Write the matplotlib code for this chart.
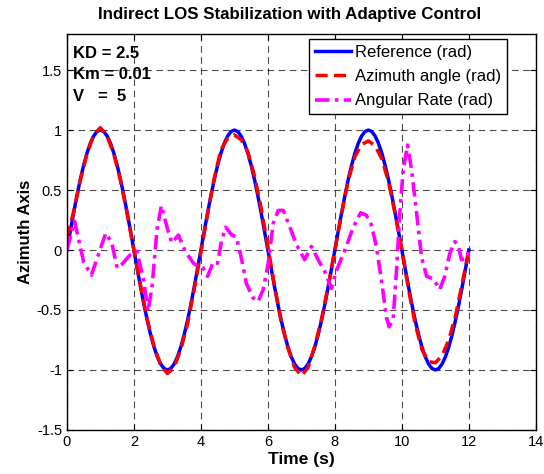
import matplotlib
matplotlib.use("Agg")
import matplotlib.pyplot as plt
import numpy as np

plt.rcParams['font.family'] = ['Liberation Sans', 'DejaVu Sans']

# reference signal, 0.1 s steps
t_ref = np.arange(0, 12.001, 0.1)
reference = [0.000, 0.156, 0.309, 0.454, 0.588, 0.707, 0.809, 0.891, 0.951, 0.988,
             1.000, 0.988, 0.951, 0.891, 0.809, 0.707, 0.588, 0.454, 0.309, 0.156,
             0.000, -0.156, -0.309, -0.454, -0.588, -0.707, -0.809, -0.891, -0.951, -0.988,
             -1.000, -0.988, -0.951, -0.891, -0.809, -0.707, -0.588, -0.454, -0.309, -0.156,
             0.000, 0.156, 0.309, 0.454, 0.588, 0.707, 0.809, 0.891, 0.951, 0.988,
             1.000, 0.988, 0.951, 0.891, 0.809, 0.707, 0.588, 0.454, 0.309, 0.156,
             0.000, -0.156, -0.309, -0.454, -0.588, -0.707, -0.809, -0.891, -0.951, -0.988,
             -1.000, -0.988, -0.951, -0.891, -0.809, -0.707, -0.588, -0.454, -0.309, -0.156,
             0.000, 0.156, 0.309, 0.454, 0.588, 0.707, 0.809, 0.891, 0.951, 0.988,
             1.000, 0.988, 0.951, 0.891, 0.809, 0.707, 0.588, 0.454, 0.309, 0.156,
             0.000, -0.156, -0.309, -0.454, -0.588, -0.707, -0.809, -0.891, -0.951, -0.988,
             -1.000, -0.988, -0.951, -0.891, -0.809, -0.707, -0.588, -0.454, -0.309, -0.156,
             0.000]

# azimuth angle, 0.2 s steps
t_az = np.arange(0, 12.01, 0.2)
azimuth = [0.10, 0.32, 0.58, 0.80, 0.96, 1.02, 0.95, 0.80, 0.58, 0.30,
           0.00, -0.30, -0.58, -0.80, -0.96, -1.03, -0.98, -0.83, -0.62, -0.33,
           -0.02, 0.30, 0.60, 0.84, 0.93, 0.96, 0.92, 0.82, 0.62, 0.35,
           0.03, -0.30, -0.60, -0.82, -0.98, -1.05, -0.98, -0.80, -0.58, -0.30,
           0.00, 0.30, 0.58, 0.78, 0.88, 0.91, 0.87, 0.76, 0.57, 0.30,
           0.00, -0.33, -0.62, -0.83, -0.93, -0.94, -0.88, -0.75, -0.55, -0.28,
           0.00]

# angular rate, read point by point
t_rate = [0.0, 0.23, 0.5, 0.73, 0.95, 1.16, 1.34, 1.5, 1.64, 1.89, 2.09, 2.29, 2.42,
          2.54, 2.69, 2.82, 2.99, 3.13, 3.33, 3.53, 3.78, 3.93, 4.07, 4.2, 4.37, 4.5,
          4.62, 4.74, 4.92, 5.06, 5.21, 5.36, 5.56, 5.71, 5.86, 6.01, 6.16, 6.31, 6.46,
          6.66, 6.86, 7.1, 7.3, 7.5, 7.7, 7.9, 8.05, 8.3, 8.55, 8.77, 8.94, 9.09, 9.24,
          9.39, 9.54, 9.62, 9.74, 9.84, 9.94, 10.04, 10.17, 10.29, 10.44, 10.59, 10.74,
          10.94, 11.13, 11.28, 11.43, 11.58, 11.68, 11.78, 11.93, 12.0]
rate = [0.0, 0.24, -0.10, -0.21, -0.03, 0.14, 0.06, -0.15, -0.12, -0.04, -0.01, -0.25, -0.51,
        -0.31, 0.17, 0.37, 0.19, 0.06, 0.125, -0.01, -0.11, -0.14, -0.15, -0.22, -0.10, -0.11,
        0.08, 0.19, 0.125, 0.11, -0.07, -0.28, -0.40, -0.43, -0.33, -0.11, 0.22, 0.33, 0.33,
        0.19, 0.04, -0.08, 0.03, -0.08, -0.18, -0.32, -0.17, 0.0, 0.19, 0.31, 0.29, 0.21, 0.03,
        -0.25, -0.56, -0.64, -0.58, -0.17, 0.31, 0.67, 0.875, 0.67, 0.31, -0.06, -0.22,
        -0.24, -0.33, -0.22, -0.03, 0.07, 0.04, -0.08, -0.07, -0.01]

xticks = [0, 2, 4, 6, 8, 10, 12, 14]
yticks = [-1.5, -1, -0.5, 0, 0.5, 1, 1.5]
ytick_labels = ['-1.5', '-1', '-0.5', '0', '0.5', '1', '1.5']

fig = plt.figure(figsize=(5.44, 4.74), dpi=100)
ax = fig.add_axes([0.123, 0.093, 0.862, 0.835])

ax.plot(t_ref, reference, color='#0000ff', lw=2.5, label='Reference (rad)')
ax.plot(t_az, azimuth, color='#ff0000', lw=2.5, ls=(0, (3.5, 1.8)), label='Azimuth angle (rad)')
ax.plot(t_rate, rate, color='#ff00ff', lw=2.6, ls=(0, (4, 1.5, 1, 1.5)), label='Angular Rate (rad)')

ax.set_xlim(0, 14)
ax.set_ylim(-1.5, 1.8)
ax.set_xticks(xticks)
ax.set_yticks(yticks)
ax.set_yticklabels(ytick_labels)
ax.tick_params(direction='in', top=True, right=True, labelsize=10.5, length=4)
ax.grid(True, color='black', ls=(0, (6, 4)), lw=0.8, alpha=0.7)
for s in ax.spines.values():
    s.set_linewidth(1.0)

ax.set_title('Indirect LOS Stabilization with Adaptive Control', fontsize=12.2, fontweight='bold',
             pad=11, x=0.475)
ax.set_xlabel('Time (s)', fontsize=12.5, fontweight='bold', labelpad=2)
ax.set_ylabel('Azimuth Axis', fontsize=12, fontweight='bold', labelpad=3)

ax.text(0.013, 0.952, 'KD = 2.5', transform=ax.transAxes, fontsize=12, fontweight='bold', va='center')
ax.text(0.013, 0.898, 'Km = 0.01', transform=ax.transAxes, fontsize=12, fontweight='bold', va='center')
ax.text(0.013, 0.842, 'V   =  5', transform=ax.transAxes, fontsize=12, fontweight='bold', va='center')

leg = ax.legend(loc='upper right', bbox_to_anchor=(0.938, 0.987), fontsize=12, handlelength=2.2,
                handletextpad=0.2, labelspacing=0.55, borderpad=0.35, fancybox=False, framealpha=1,
                borderaxespad=0)
leg.get_frame().set_edgecolor('black')
leg.get_frame().set_linewidth(1.0)

fig.savefig('out.png', dpi=100)
